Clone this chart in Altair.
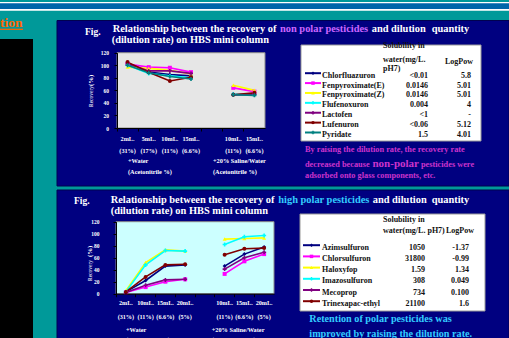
import altair as alt
import pandas as pd

W, H = 509, 338
SERIF = "Liberation Serif"

# ---------------- top chart (non polar pesticides) ----------------
top_keys = ["w2", "w5", "w10", "w15", "gap", "s10", "s15"]
top_vol = ["2mL.", "5mL.", "10mL.", "15mL.", "", "10mL.", "15mL."]
top_pct = ["(31%)", "(17%)", "(11%)", "(6.6%)", "", "(11%)", "(6.6%)"]
top_series = ["Chlorfluazuron", "Fenpyroximate(E)", "Fenpyroximate(Z)",
              "Flufenoxuron", "Lactofen", "Lufenuron", "Pyridate"]
top_solubility = ["<0.01", "0.0146", "0.0146", "0.004", "<1", "<0.06", "1.5"]
top_logpow = ["5.8", "5.01", "5.01", "4", "-", "5.12", "4.01"]
top_colors = ["#000080", "#ff00ff", "#ffff00", "#00ffff", "#800080", "#800000", "#008080"]
top_shapes = ["diamond", "square", "triangle-up", "cross", "cross", "circle", "cross"]

chlorfluazuron = [101, 89, 85, 83, None, 53, 53]
fenpyroximate_e = [102, 97, 96, 89, None, 64, 58]
fenpyroximate_z = [97, 95, 92, 86, None, 68, 60]
flufenoxuron = [100, 87, 83, 80, None, 54, 53]
lactofen = [103, 91, 91, 87, None, 53, 54]
lufenuron = [105, 89, 75, 81, None, 53, 56]
pyridate = [100, 88, 82, 78, None, 53, 52]
top_values = [chlorfluazuron, fenpyroximate_e, fenpyroximate_z, flufenoxuron,
              lactofen, lufenuron, pyridate]

# ---------------- bottom chart (high polar pesticides) ----------------
bot_keys = ["w2", "w10", "w15", "w20", "gap", "s10", "s15", "s20"]
bot_vol = ["2mL.", "10mL.", "15mL.", "20mL.", "", "10mL.", "15mL.", "20mL."]
bot_pct = ["(31%)", "(11%)", "(6.6%)", "(5%)", "", "(11%)", "(6.6%)", "(5%)"]
bot_series = ["Azimsulfuron", "Chlorsulfuron", "Haloxyfop", "Imazosulfuron",
              "Mecoprop", "Trinexapac-ethyl"]
bot_solubility = ["1050", "31800", "1.59", "308", "734", "21100"]
bot_logpow = ["-1.37", "-0.99", "1.34", "0.049", "0.100", "1.6"]
bot_colors = ["#000080", "#ff00ff", "#ffff00", "#00ffff", "#800080", "#800000"]
bot_shapes = ["diamond", "square", "triangle-up", "cross", "cross", "circle"]

azimsulfuron = [3, 22, 46, 48, None, 46, 66, 78]
chlorsulfuron = [2, 11, 20, 24, None, 33, 54, 66]
haloxyfop = [5, 52, 73, 71, None, 91, 92, 93]
imazosulfuron = [3, 48, 72, 71, None, 82, 95, 97]
mecoprop = [2, 14, 23, 24, None, 41, 60, 69]
trinexapac = [3, 28, 48, 49, None, 65, 75, 76]
bot_values = [azimsulfuron, chlorsulfuron, haloxyfop, imazosulfuron, mecoprop, trinexapac]

y_ticks = [0, 20, 40, 60, 80, 100, 120]

color_scale = alt.Scale(domain=top_series + bot_series, range=top_colors + bot_colors)
shape_scale = alt.Scale(domain=top_series + bot_series, range=top_shapes + bot_shapes)

one = pd.DataFrame({"o": [0]})


def long_df(series, keys, values):
    rows = []
    for s, vals in zip(series, values):
        for i, (k, v) in enumerate(zip(keys, vals)):
            if v is None:
                continue
            rows.append({"series": s, "key": k, "idx": i, "seg": s + "_" + k[0], "value": v})
    return pd.DataFrame(rows)


def box(x, y, x2, y2, fill, stroke=None, sw=1.0):
    kw = dict(fill=fill)
    if stroke:
        kw.update(stroke=stroke, strokeWidth=sw)
    return alt.Chart(one).mark_rect(**kw).encode(
        x=alt.value(x), x2=alt.value(x2), y=alt.value(y), y2=alt.value(y2))


def hline(x, x2, y, color, sw=1.0):
    return alt.Chart(one).mark_rule(color=color, strokeWidth=sw).encode(
        x=alt.value(x), x2=alt.value(x2), y=alt.value(y))


def txt(s, x, y, size, color, weight="bold", align="left", angle=None, baseline="alphabetic"):
    kw = dict(text=s, font=SERIF, fontSize=size, fontWeight=weight, color=color,
              align=align, baseline=baseline)
    if angle is not None:
        kw["angle"] = angle
    return alt.Chart(one).mark_text(**kw).encode(x=alt.value(x), y=alt.value(y))


def chart_layers(series, keys, values, vol, pct, x0, x1, y0, y1, label_pad, row1, row2):
    df = long_df(series, keys, values)
    xs = alt.Scale(type="band", domain=keys, range=[x0, x1], paddingInner=0, paddingOuter=0)
    ys = alt.Scale(domain=[0, 120], range=[y1, y0], nice=False)
    yaxis = alt.Axis(orient="left", offset=-x0, values=y_ticks, grid=False, title=None,
                     labelColor="white", labelFont=SERIF, labelFontSize=5.5,
                     labelFontWeight="bold", labelPadding=label_pad, tickSize=3,
                     tickColor="black", domainColor="black", zindex=1)
    xaxis = alt.Axis(orient="bottom", offset=-(H - y1), bandPosition=0, labels=False,
                     grid=False, title=None, tickSize=3, tickColor="black",
                     domainColor="black", zindex=1)
    line = alt.Chart(df).mark_line(strokeWidth=1.6).encode(
        x=alt.X("key:N", scale=xs, axis=xaxis, bandPosition=0.5),
        y=alt.Y("value:Q", scale=ys, axis=yaxis),
        color=alt.Color("series:N", scale=color_scale, legend=None),
        detail="seg:N",
        order="idx:Q",
    )
    pts = alt.Chart(df).mark_point(filled=True, size=16, opacity=1).encode(
        x=alt.X("key:N", scale=xs, axis=None, bandPosition=0.5),
        y=alt.Y("value:Q", scale=ys, axis=None),
        color=alt.Color("series:N", scale=color_scale, legend=None),
        shape=alt.Shape("series:N", scale=shape_scale, legend=None),
    )
    lab = pd.DataFrame({"key": keys, "vol": vol, "pct": pct})
    t1 = alt.Chart(lab).mark_text(font=SERIF, fontSize=6.2, fontWeight="bold", color="white").encode(
        x=alt.X("key:N", scale=xs, axis=None, bandPosition=0.5), y=alt.value(row1), text="vol:N")
    t2 = alt.Chart(lab).mark_text(font=SERIF, fontSize=6.2, fontWeight="bold", color="white").encode(
        x=alt.X("key:N", scale=xs, axis=None, bandPosition=0.5), y=alt.value(row2), text="pct:N")
    return [line, pts, t1, t2]


def legend_layers(series, sol, lp, r0, r1, sx0, sx1, name_x, sol_x, lp_x):
    df = pd.DataFrame({"series": series, "sol": sol, "lp": lp})
    yt = alt.Scale(type="point", domain=series, range=[r0, r1], padding=0)
    ysym = alt.Scale(type="point", domain=series, range=[r0 - 2.5, r1 - 2.5], padding=0)
    base = alt.Chart(df)
    col = alt.Color("series:N", scale=color_scale, legend=None)
    rule = base.mark_rule(strokeWidth=2).encode(
        x=alt.value(sx0), x2=alt.value(sx1), y=alt.Y("series:N", scale=ysym, axis=None), color=col)
    pt = base.mark_point(filled=True, size=12, opacity=1).encode(
        x=alt.value((sx0 + sx1) / 2), y=alt.Y("series:N", scale=ysym, axis=None), color=col,
        shape=alt.Shape("series:N", scale=shape_scale, legend=None))
    tk = dict(font=SERIF, fontSize=8, fontWeight="bold", color="#111111")
    names = base.mark_text(align="left", **tk).encode(
        x=alt.value(name_x), y=alt.Y("series:N", scale=yt, axis=None), text="series:N")
    sols = base.mark_text(align="right", **tk).encode(
        x=alt.value(sol_x), y=alt.Y("series:N", scale=yt, axis=None), text="sol:N")
    lps = base.mark_text(align="right", **tk).encode(
        x=alt.value(lp_x), y=alt.Y("series:N", scale=yt, axis=None), text="lp:N")
    return [rule, pt, names, sols, lps]


TS = 10.4  # title font size

layers = []
# top stripes
layers += [box(0, 2, W, 10.7, "#ffffff"), box(0, 3.3, W, 9, "#0066aa")]
# left title fragment and black block
layers += [txt("tion", 0, 27, 13.5, "#ff6600"), hline(0, 23, 29.3, "#ff6600", 1.2)]
layers += [box(0, 39, 33, H, "#000000")]
# navy panels
layers += [box(57, 20.5, W, 186, "#000080", "#000050", 1),
           box(57, 190, W, H + 2, "#000080", "#000050", 1)]

# ---- top panel texts
layers += [txt("Fig.", 85, 35, 9.5, "white"),
           txt("Relationship between the recovery of", 112.7, 31.7, TS, "white"),
           txt("non polar pesticides", 280, 31.7, TS, "#cc66ff"),
           txt("and dilution", 371.7, 31.7, TS, "white"),
           txt("quantity", 431.7, 31.7, TS, "white"),
           txt("(dilution rate) on HBS mini column", 111.7, 43.3, TS, "white")]
layers += [box(117, 52.7, 265, 128, "#e6e6e6", "#8a8a8a", 1)]
layers += [txt("Recovery", 91, 107, 5.5, "white", weight="normal", angle=270, baseline="middle"),
           txt("(%)", 91, 86, 6.8, "white", angle=270, baseline="middle")]
layers += [txt("+Water", 128, 163, 6.3, "white"),
           txt("(Acetonitrile %)", 128, 174, 6.3, "white"),
           txt("+20% Saline/Water", 213, 163, 6.3, "white"),
           txt("(Acetonitrile %)", 213, 174, 6.3, "white")]
layers += [box(301, 45, 481, 141, "#ffffff", "#9a9a9a", 1),
           txt("Solubility in", 383, 48, 8, "#111111"),
           txt("water(mg/L.", 383, 61.7, 8, "#111111"),
           txt("pH7)", 383, 70.7, 8, "#111111"),
           txt("LogPow", 445, 64, 8, "#111111")]
layers += legend_layers(top_series, top_solubility, top_logpow, 75.7, 135,
                        305, 321, 322, 428, 471)
mag = "#cc33cc"
layers += [txt("By raising the dilution rate, the recovery rate", 305, 151.7, 8.3, mag),
           txt("decreased because", 305, 167.3, 8.3, mag),
           txt("non-polar", 372.5, 167.3, 11, mag),
           txt("pesticides were", 421, 167.3, 8.3, mag),
           txt("adsorbed onto glass components, etc.", 305, 178.3, 8.3, mag)]
layers += chart_layers(top_series, top_keys, top_values, top_vol, top_pct,
                       117, 265, 52.7, 128, 5.5, 139, 151)

# ---- bottom panel texts
layers += [txt("Fig.", 74, 204, 9.5, "white"),
           txt("Relationship between the recovery of", 110.7, 203.3, TS, "white"),
           txt("high polar pesticides", 278.3, 203.3, TS, "#33ccff"),
           txt("and dilution", 372.7, 203.3, TS, "white"),
           txt("quantity", 431.7, 203.3, TS, "white"),
           txt("(dilution rate) on HBS mini column", 110.7, 214.3, TS, "white")]
layers += [box(116, 221.7, 274, 293.7, "#ccffff", "#8a8a8a", 1)]
layers += [txt("Recovery", 90, 281, 5.5, "white", weight="normal", angle=270, baseline="middle"),
           txt("(%)", 90, 257, 6.8, "white", angle=270, baseline="middle")]
layers += [txt("+Water", 126, 331.7, 6.3, "white"),
           txt("(Acetonitrile %)", 126, 342, 6.3, "white"),
           txt("+20% Saline/Water", 211.7, 331.7, 6.3, "white"),
           txt("(Acetonitrile %)", 211.7, 342, 6.3, "white")]
layers += [box(300, 214, 485, 311, "#ffffff", "#9a9a9a", 1),
           txt("Solubility in", 383, 222, 8, "#111111"),
           txt("water(mg/L. pH7)", 383, 233, 8, "#111111"),
           txt("LogPow", 446, 233, 8, "#111111")]
layers += legend_layers(bot_series, bot_solubility, bot_logpow, 247.7, 303.7,
                        303, 320, 322, 425, 469)
cy = "#33ccff"
layers += [txt("Retention of polar pesticides was", 309.3, 322, 10.2, cy),
           txt("improved by raising the dilution rate.", 309.3, 336.7, 10.2, cy)]
layers += chart_layers(bot_series, bot_keys, bot_values, bot_vol, bot_pct,
                       116, 274, 221.7, 293.7, 14, 303, 316.7)

chart = alt.layer(*layers).resolve_scale(x="independent", y="independent").properties(
    width=W, height=H, padding=0, background="#009999",
    autosize=alt.AutoSizeParams(type="none"),
).configure_view(stroke=None)

chart.save("out.html", embed_options={"renderer": "svg", "actions": False})
